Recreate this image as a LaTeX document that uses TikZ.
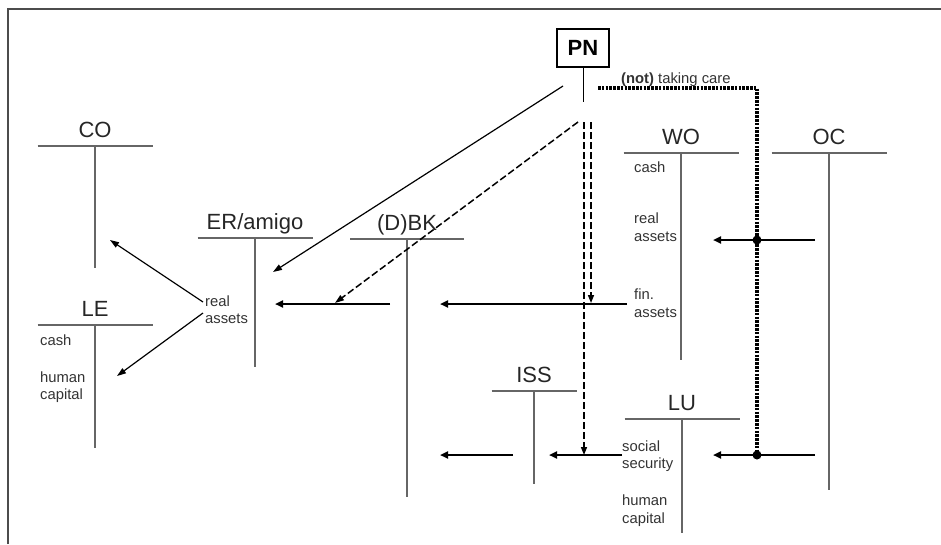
\documentclass[tikz,border=0pt]{standalone}
\usepackage{fontspec}
\setmainfont{Liberation Sans}
\usetikzlibrary{arrows.meta}
\tikzset{
  acct/.style={draw=black!60, line width=1.3pt},
  big/.style={font=\fontsize{22}{26}\selectfont, inner sep=0pt, text=black!85},
  small/.style={font=\fontsize{14.8}{17}\selectfont, inner sep=0pt, anchor=base west, text=black!80},
  flow/.style={line width=2.2pt, -{Triangle[length=8pt,width=7pt]}},
  thinarr/.style={line width=1.2pt, -{Triangle[length=9pt,width=6pt]}},
  dsh/.style={line width=1.5pt, dash pattern=on 7pt off 3pt},
  dots/.style={line width=3.8pt, dash pattern=on 2.5pt off 1.3pt},
  knot/.style={circle, fill=black, inner sep=0pt, minimum size=9pt},
}
\newcommand\tacct[6]{%
  \coordinate (#1-top) at (#3,#4);
  \draw[acct] (#3-#5,#4) -- (#3+#5,#4);
  \draw[acct] (#1-top) -- (#3,#6);
  \node[big, anchor=base] (#1) at (#3,#4-9) {#2};
}
\begin{document}
\begin{tikzpicture}[x=1pt,y=-1pt]
\useasboundingbox (0,0) rectangle (941,544);
\draw[line width=1.5pt, black!70] (8,544) -- (8,9) -- (941,9);

\tacct{co}{CO}{95}{146}{57.5}{268}
\tacct{le}{LE}{95}{325}{57.5}{448}
\tacct{er}{ER/amigo}{255}{238}{57.5}{367}
\tacct{bk}{(D)BK}{407}{239}{57}{497}
\tacct{wo}{WO}{681}{153}{57.5}{360}
\tacct{oc}{OC}{829}{153}{57.5}{490}
\tacct{iss}{ISS}{534}{391}{42.5}{484}
\tacct{lu}{LU}{682}{419}{57.5}{533}

% small labels
\node[small] (lecash) at (40,345) {cash};
\node[small] (lehum) at (40,382) {human};
\node[small] (lecap) at (40,399) {capital};
\node[small] (erreal) at (205,306) {real};
\node[small] (erass) at (205,323) {assets};
\node[small] (wocash) at (634,172) {cash};
\node[small] (woreal) at (634,223) {real};
\node[small] (woass) at (634,241) {assets};
\node[small] (wofin) at (634,299) {fin.};
\node[small] (wofass) at (634,317) {assets};
\node[small] (lusoc) at (622,451) {social};
\node[small] (lusec) at (622,468) {security};
\node[small] (luhum) at (622,505) {human};
\node[small] (lucap) at (622,523) {capital};

% PN
\node[draw, line width=1.5pt, minimum width=52pt, minimum height=38pt, inner sep=0pt,
      font=\fontsize{22}{26}\selectfont\bfseries] (pn) at (583,48) {PN};
\coordinate (pnfoot) at (583,102);
\draw[line width=1pt] (pn.south) -- (pnfoot);
\node[small] (care) at (621,83) {\textbf{(not)} taking care};

% dotted "taking care" line
\coordinate (d0) at (598,88);
\coordinate (d1) at (757,88);
\coordinate (d2) at (757,455);
\draw[dots] (d0) -- (d1) -- (d2);
\node[knot] (k1) at (757,240) {};
\node[knot] (k2) at (757,455) {};

% diagonal arrows from PN
\coordinate (p1) at (563,86);
\coordinate (e1) at (273,272);
\draw[thinarr] (p1) -- (e1);
\coordinate (p2) at (578,122);
\coordinate (e2) at (335,303);
\draw[dsh, -{Triangle[length=9pt,width=6pt]}] (p2) -- (e2);

% vertical dashed from PN
\coordinate (v1a) at (591,122);
\coordinate (v1b) at (591,303);
\coordinate (v2a) at (584,122);
\coordinate (v2b) at (584,455);
\draw[dsh, -{Triangle[length=8pt,width=6pt]}] (v1a) -- (v1b);
\draw[dsh, -{Triangle[length=8pt,width=6pt]}] (v2a) -- (v2b);

% horizontal flows, fin. assets level
\coordinate (h1a) at (390,304);
\coordinate (h1b) at (275,304);
\draw[flow] (h1a) -- (h1b);
\coordinate (h2a) at (627,304);
\coordinate (h2b) at (440,304);
\draw[flow] (h2a) -- (h2b);

% OC -> WO real assets
\coordinate (r1a) at (815,240);
\coordinate (r1b) at (713,240);
\draw[flow] (r1a) -- (r1b);

% social security level
\coordinate (s1a) at (622,455);
\coordinate (s1b) at (549,455);
\draw[flow] (s1a) -- (s1b);
\coordinate (s2a) at (513,455);
\coordinate (s2b) at (440,455);
\draw[flow] (s2a) -- (s2b);
\coordinate (s3a) at (815,455);
\coordinate (s3b) at (713,455);
\draw[flow] (s3a) -- (s3b);

% real assets to CO and LE
\coordinate (ra1) at (203,302);
\coordinate (ra2) at (203,313);
\coordinate (toco) at (110,240);
\coordinate (tole) at (117,376);
\draw[thinarr] (ra1) -- (toco);
\draw[thinarr] (ra2) -- (tole);
\end{tikzpicture}
\end{document}
